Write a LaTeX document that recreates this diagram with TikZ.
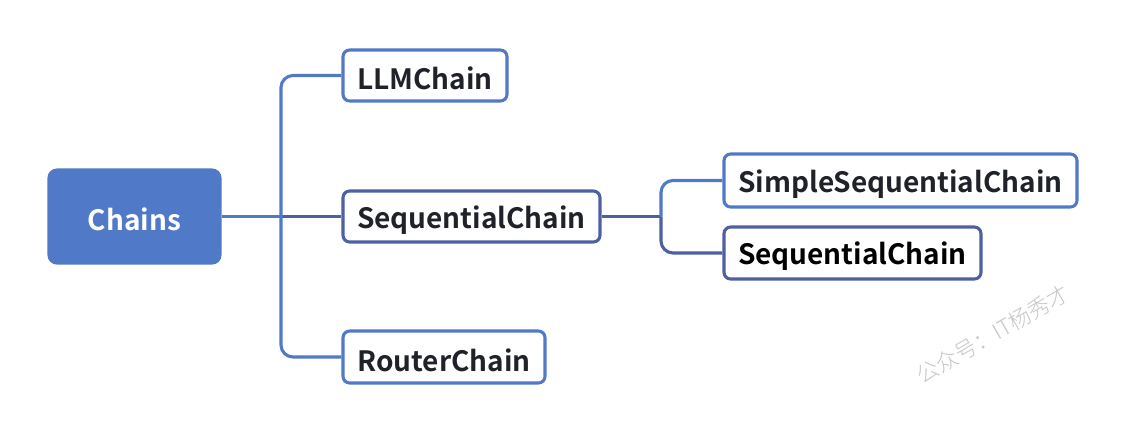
\documentclass[tikz,border=0pt]{standalone}
\usepackage{fontspec}
\setmainfont{Noto Sans CJK SC}[BoldFont={Noto Sans CJK SC Bold}]
\newfontfamily\wmfont{Noto Sans CJK SC Light}
\definecolor{lblue}{HTML}{5079C8}
\definecolor{dblue}{HTML}{4E5FA3}
\definecolor{txt}{HTML}{1F2329}
\newcommand\lowtxt[1]{\raisebox{-2.5pt}[\height][\depth]{#1}}
\tikzset{
  box/.style 2 args={draw, line width=2.3pt, rounded corners=5pt, fill=white,
    minimum width=#1*0.75pt, minimum height=#2*0.75pt, inner sep=0pt,
    font=\bfseries\fontsize{21}{24}\selectfont, text=txt},
  conn/.style={line width=2.3pt, rounded corners=9pt},
}
\begin{document}
\begin{tikzpicture}[x=0.75pt,y=-0.75pt]
\useasboundingbox[fill=white] (0,0) rectangle (1128,436);
\node[box={171}{93}, draw=lblue, fill=lblue, text=white, rounded corners=6pt] (chains) at (134.5,216.5) {\lowtxt{Chains}};
\node[box={164}{51}, draw=lblue] (llm) at (425,75.5) {\lowtxt{LLMChain}};
\node[box={257}{51}, draw=dblue] (seq) at (471.5,216.5) {\lowtxt{SequentialChain}};
\node[box={202}{52}, draw=lblue] (router) at (444,357) {\lowtxt{RouterChain}};
\node[box={353}{53}, draw=lblue] (simple) at (900.5,180.5) {\lowtxt{SimpleSequentialChain}};
\node[box={257}{52}, draw=dblue, text=black] (seqb) at (852.5,253) {\lowtxt{SequentialChain}};
\coordinate (trunk) at (281,216.5);
\coordinate (br) at (661,216.5);
\draw[conn, lblue] (chains.east) -- (trunk);
\draw[conn, dblue] (trunk) -- (seq.west);
\draw[conn, lblue] (llm.west) -| (trunk) |- (router.west);
\draw[conn, dblue] (seq.east) -- (br);
\draw[conn, lblue] (br) |- (simple.west);
\draw[conn, dblue] (br) |- (seqb.west);
\node[rotate=30, text=black!22, font=\wmfont\fontsize{16.5}{18}\selectfont] (wm) at (993,334) {公众号：IT杨秀才};
\end{tikzpicture}
\end{document}
